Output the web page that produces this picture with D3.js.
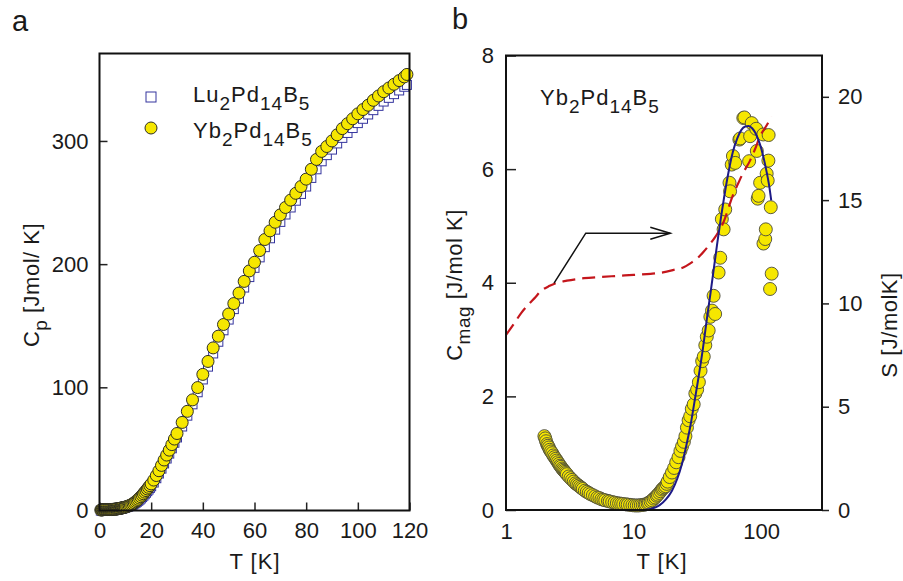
<!DOCTYPE html>
<html>
<head>
<meta charset="utf-8">
<script src="https://cdn.jsdelivr.net/npm/d3@7"></script>
<style>
  body { margin: 0; background: #fff; }
  text { font-family: "Liberation Sans", Arial, sans-serif; fill: #1a1a1a; }
</style>
</head>
<body>
<svg id="chart" width="903" height="581"></svg>
<script>
// ---- panel a : Cp vs T  ([T, Cp]) ----
var luCp = [[0.5,0.0],[0.75,0.0],[1,0.1],[1.25,0.1],[1.5,0.1],[1.75,0.1],[2,0.1],[2.25,0.1],[2.5,0.2],[2.75,0.2],[3,0.2],[3.25,0.2],[3.5,0.3],[3.75,0.3],[4,0.3],[4.25,0.4],[4.5,0.4],[4.75,0.4],
  [5,0.5],[5.25,0.5],[5.5,0.6],[5.75,0.6],[6,0.7],[6.25,0.8],[6.5,0.9],[6.75,0.9],[7,1.0],[7.25,1.1],[7.5,1.2],[7.75,1.3],[8,1.4],[8.25,1.5],[8.5,1.6],[8.75,1.8],[9,1.9],[9.25,2.0],[9.5,2.2],[9.75,2.3],[10,2.5],
  [10.5,2.8],[11,3.1],[11.5,3.5],[12,3.9],[12.5,4.4],[13,4.9],[13.5,5.6],[14,6.3],[14.5,7.1],[15,7.9],[15.5,8.8],[16,9.8],[16.5,10.9],[17,12.0],[17.5,13.2],[18,14.4],[18.5,15.7],[19,17.0],[19.5,18.3],[20,19.7],
  [21,22.7],[22,26.2],[23,30.0],[24,34.0],[25,38.2],[26,42.2],[27,46.2],[28,50.5],[29,55.0],[30,59.3],
  [32,68.2],[34,77.0],[36,86.2],[38,96.0],[40,106.4],[42,116.8],[44,127.5],[46,137.0],[48,146.3],[50,155.0],[52,163.5],[54,172.0],[56,181.0],[58,189.5],[60,197.0],[62,205.5],[64,213.8],[66,221.0],[68,228.0],[70,234.3],
  [72,240.3],[74,246.0],[76,251.5],[78,257.0],[80,263.0],[82,270.0],[84,277.0],[86,283.5],[88,288.5],[90,293.0],[92,298.0],[94,302.5],[96,306.5],[98,310.5],[100,314.5],[102,318.0],[104,321.5],[106,325.0],[108,328.5],[110,332.0],
  [112,335.0],[114,338.0],[116,341.0],[118,344.0],[119,345.5]];

var ybCp = [[0.5,0.4],[0.75,0.5],[1,0.5],[1.25,0.6],[1.5,0.7],[1.75,0.7],[2,0.8],[2.25,0.8],[2.5,0.8],[2.75,0.8],[3,0.8],[3.25,0.8],[3.5,0.8],[3.75,0.8],[4,0.8],[4.25,0.8],[4.5,0.8],[4.75,0.8],
  [5,0.9],[5.25,0.9],[5.5,1.0],[5.75,1.0],[6,1.1],[6.25,1.1],[6.5,1.2],[6.75,1.3],[7,1.4],[7.25,1.5],[7.5,1.6],[7.75,1.7],[8,1.8],[8.25,1.9],[8.5,2.0],[8.75,2.1],[9,2.2],[9.25,2.4],[9.5,2.5],[9.75,2.6],[10,2.8],
  [10.5,3.1],[11,3.5],[11.5,3.9],[12,4.4],[12.5,4.9],[13,5.5],[13.5,6.3],[14,7.2],[14.5,8.1],[15,9.0],[15.5,10.1],[16,11.2],[16.5,12.4],[17,13.6],[17.5,14.9],[18,16.2],[18.5,17.5],[19,18.8],[19.5,20.2],[20,21.6],
  [21,24.7],[22,28.4],[23,32.3],[24,36.6],[25,41.0],[26,45.0],[27,49.0],[28,53.5],[29,58.0],[30,62.5],
  [32,71.5],[34,80.5],[36,89.8],[38,99.8],[40,110.5],[42,121.0],[44,132.0],[46,141.5],[48,151.0],[50,159.5],[52,168.0],[54,176.5],[56,186.0],[58,194.5],[60,201.5],[62,211.0],[64,220.0],[66,227.0],[68,234.0],[70,240.0],
  [72,246.0],[74,252.0],[76,257.5],[78,263.0],[80,269.0],[82,277.0],[84,285.0],[86,291.5],[88,295.5],[90,300.0],[92,305.0],[94,310.0],[96,314.0],[98,318.0],[100,322.0],[102,325.5],[104,329.0],[106,333.0],[108,336.5],[110,340.0],
  [112,343.0],[114,346.0],[116,349.0],[118,352.0],[119,354.0]];

var cpTicksX = [0, 20, 40, 60, 80, 100, 120];
var cpTicksY = [0, 100, 200, 300];

// ---- panel b : Cmag (points), fit (line), entropy S (dashed) ----
var cmag = [[2.0,1.30],[2.03,1.26],[2.06,1.21],[2.1,1.16],[2.13,1.13],[2.17,1.10],[2.2,1.06],[2.25,1.03],[2.3,1.00],[2.35,0.96],[2.4,0.93],[2.45,0.90],[2.5,0.87],[2.55,0.84],[2.6,0.81],[2.65,0.78],[2.7,0.76],
  [2.75,0.73],[2.8,0.71],[2.85,0.69],[2.9,0.67],[2.95,0.65],[3.0,0.63],[3.1,0.59],[3.2,0.56],[3.3,0.53],[3.4,0.50],[3.5,0.47],[3.6,0.45],[3.7,0.43],[3.8,0.41],[3.9,0.39],[4.0,0.37],[4.15,0.34],[4.3,0.32],
  [4.45,0.30],[4.6,0.28],[4.8,0.26],[5.0,0.24],[5.2,0.22],[5.4,0.21],[5.6,0.19],[5.8,0.18],[6.0,0.17],[6.3,0.16],[6.5,0.15],[6.8,0.14],[7.1,0.13],[7.4,0.12],[7.7,0.115],[8.0,0.11],[8.3,0.105],[8.7,0.10],
  [9.0,0.095],[9.4,0.09],[9.8,0.085],[10.2,0.08],[10.6,0.08],[11.0,0.08],[11.4,0.085],[11.8,0.09],[12.2,0.095],[12.5,0.10],[12.9,0.115],[13.2,0.13],[13.6,0.15],[14.0,0.17],[14.4,0.20],[14.8,0.22],[15.2,0.25],
  [15.5,0.27],[15.9,0.30],[16.3,0.33],[16.7,0.36],[17.0,0.38],[17.4,0.40],[17.8,0.42],[18.2,0.46],[18.5,0.50],[19.2,0.58],[20.0,0.66],[20.8,0.74],[21.6,0.84],[22.5,0.93],[23.3,1.04],[24.0,1.12],[24.8,1.20],
  [25.5,1.30],[26.2,1.45],[27.0,1.58],[27.8,1.65],[28.6,1.78],[29.6,1.86],[30.5,2.05],[31.5,2.12],[32.5,2.25],[33.5,2.45],[34.5,2.62],[35.5,2.70],[36.5,2.90],[37.5,3.05],[38.8,3.16],[40.0,3.40],[41.2,3.51],
  [42.4,3.77],[43.6,3.45],[46.4,4.18],[47.8,4.44],[49.2,5.12],[50.8,4.94],[52.3,5.29],[56.5,5.76],[57.1,5.61],[58.8,6.08],[60.1,6.23],[62.6,6.11],[67.5,6.52],[68.5,6.54],[72.5,6.90],[73.9,6.91],[80.5,6.14],
  [82.0,6.58],[84.3,6.81],[91.5,6.71],[92.5,6.32],[94.0,5.48],[95.4,5.53],[98.2,5.76],[104.0,6.61],[104.3,4.69],[107.7,4.77],[108.8,4.94],[110.5,5.92],[112.6,5.80],[114.0,6.15],[114.5,6.60],[117.5,3.89],
  [119.0,5.33],[121.0,4.16]];

var cmagFit = [[2,0],[5,0],[10,0],[12,0],[13,0.01],[14,0.025],[15,0.05],[16,0.085],[18,0.19],[20,0.34],[22,0.55],[24,0.82],[26,1.15],[28,1.5],[30,1.9],[32,2.28],[35,2.85],[38,3.45],[40,3.8],
  [45,4.65],[50,5.35],[55,5.9],[60,6.3],[65,6.54],[70,6.69],[75,6.75],[80,6.76],[85,6.72],[90,6.64],[95,6.52],[100,6.37],[105,6.18],[110,5.97],[115,5.74],[120,5.45]];

var entropy = [[1,8.47],[1.15,9.0],[1.31,9.52],[1.5,9.95],[1.7,10.3],[1.88,10.6],[2.2,10.85],[2.46,10.98],[3,11.1],[4.09,11.22],[5.5,11.28],[7.45,11.33],[10,11.38],[13.6,11.43],[17,11.5],[20.6,11.62],
  [24.7,11.75],[28,11.95],[30.5,12.1],[35.4,12.5],[40,12.9],[44,13.25],[47.8,13.6],[52,14.1],[56,14.7],[60.6,15.3],[66,15.8],[72,16.3],[81.7,16.9],[90,17.5],[98.2,18.1],[110,18.6],[121,19.05]];

// arrow pointing to the S axis, in [T, S] units
var arrowPts = [[2.38, 10.98], [4.22, 13.4], [19.4, 13.4]];

var cmagTicksX = [1, 10, 100];
var cmagTicksY = [0, 2, 4, 6, 8];
var sTicks = [0, 5, 10, 15, 20];

var svg = d3.select("#chart");

function styleAxis(g) {
  g.select(".domain").remove();
  g.selectAll("text").attr("font-size", 22).attr("font-family", "Liberation Sans, Arial, sans-serif").attr("fill", "#1a1a1a");
  g.selectAll("line").attr("stroke", "#222").attr("stroke-width", 1.5);
}

// writes text like Lu_2Pd_14B_5 as tspans, subscripts shifted down
function subText(sel, parts, size, subSize) {
  parts.forEach(function (p) {
    if (p[1]) {
      sel.append("tspan").attr("dy", 8).attr("font-size", subSize).text(p[0]);
    } else {
      var t = sel.append("tspan").attr("font-size", size).text(p[0]);
      if (sel.selectAll("tspan").size() > 1) t.attr("dy", -8);
    }
  });
}

var yellow = "#f6e700";

// ================= panel a =================
var xa = d3.scaleLinear().domain([0, 120]).range([99.5, 409.5]);
var ya = d3.scaleLinear().domain([0, 371]).range([510.5, 53.5]);

svg.append("g").attr("transform", "translate(0,510.5)")
  .call(d3.axisBottom(xa).tickValues(cpTicksX).tickSize(-8).tickPadding(12))
  .call(styleAxis);
svg.append("g").attr("transform", "translate(99.5,0)")
  .call(d3.axisLeft(ya).tickValues(cpTicksY).tickSize(-8).tickPadding(11))
  .call(styleAxis);

svg.append("g").selectAll("rect").data(luCp).enter().append("rect")
  .attr("x", function (d) { return xa(d[0]) - 4.5; })
  .attr("y", function (d) { return ya(d[1]) - 4.5; })
  .attr("width", 9).attr("height", 9)
  .attr("fill", "#fff").attr("stroke", "#34349e").attr("stroke-width", 1);

svg.append("g").selectAll("circle").data(ybCp).enter().append("circle")
  .attr("cx", function (d) { return xa(d[0]); })
  .attr("cy", function (d) { return ya(d[1]); })
  .attr("r", 6)
  .attr("fill", yellow).attr("stroke", "#2e2e24").attr("stroke-width", 1);

svg.append("rect").attr("x", 99.5).attr("y", 53.5).attr("width", 310).attr("height", 457)
  .attr("fill", "none").attr("stroke", "#111").attr("stroke-width", 2);

// legend
svg.append("rect").attr("x", 146).attr("y", 92).attr("width", 10).attr("height", 10)
  .attr("fill", "#fff").attr("stroke", "#34349e").attr("stroke-width", 1);
svg.append("circle").attr("cx", 151).attr("cy", 128).attr("r", 6)
  .attr("fill", yellow).attr("stroke", "#2e2e24").attr("stroke-width", 1);
subText(svg.append("text").attr("x", 193).attr("y", 102).attr("letter-spacing", 1),
  [["Lu",0],["2",1],["Pd",0],["14",1],["B",0],["5",1]], 22, 19);
subText(svg.append("text").attr("x", 193).attr("y", 138).attr("letter-spacing", 1),
  [["Yb",0],["2",1],["Pd",0],["14",1],["B",0],["5",1]], 22, 19);

svg.append("text").attr("x", 12).attr("y", 31).attr("font-size", 29).text("a");
svg.append("text").attr("x", 255).attr("y", 569).attr("text-anchor", "middle").attr("font-size", 22)
  .attr("letter-spacing", 1).text("T [K]");
subText(svg.append("text").attr("transform", "translate(39,285) rotate(-90)").attr("text-anchor", "middle").attr("letter-spacing", 0.5),
  [["C",0],["p",1],[" [Jmol/ K]",0]], 22, 19);

// ================= panel b =================
var xb = d3.scaleLog().domain([1, 300]).range([506, 822]);
var yb = d3.scaleLinear().domain([0, 8]).range([510, 55.5]);
var ys = d3.scaleLinear().domain([0, 22]).range([510, 55.5]);

svg.append("g").attr("transform", "translate(0,510)")
  .call(d3.axisBottom(xb).tickValues(cmagTicksX).tickFormat(d3.format("d")).tickSize(0).tickPadding(13))
  .call(styleAxis);
svg.append("g").attr("transform", "translate(506,0)")
  .call(d3.axisLeft(yb).tickValues(cmagTicksY).tickSize(-10).tickPadding(12))
  .call(styleAxis);
svg.append("g").attr("transform", "translate(822,0)")
  .call(d3.axisRight(ys).tickValues(sTicks).tickSize(7).tickPadding(9))
  .call(styleAxis);

svg.append("g").selectAll("circle").data(cmag).enter().append("circle")
  .attr("cx", function (d) { return xb(d[0]); })
  .attr("cy", function (d) { return yb(d[1]); })
  .attr("r", 6.5)
  .attr("fill", yellow).attr("stroke", "#4a4a3c").attr("stroke-width", 0.9);

svg.append("path").datum(entropy)
  .attr("fill", "none").attr("stroke", "#c4161c").attr("stroke-width", 2.2)
  .attr("stroke-dasharray", "13,7")
  .attr("d", d3.line().curve(d3.curveMonotoneX)
    .x(function (d) { return xb(d[0]); })
    .y(function (d) { return ys(d[1]); }));

svg.append("path").datum(cmagFit)
  .attr("fill", "none").attr("stroke", "#1d1a86").attr("stroke-width", 2)
  .attr("d", d3.line().curve(d3.curveMonotoneX)
    .x(function (d) { return xb(d[0]); })
    .y(function (d) { return yb(d[1]); }));

// arrow
svg.append("defs").append("marker").attr("id", "head")
  .attr("markerUnits", "userSpaceOnUse").attr("markerWidth", 24).attr("markerHeight", 16)
  .attr("refX", 21).attr("refY", 7).attr("orient", "auto")
  .append("path").attr("d", "M1,1 L21,7 L1,13").attr("fill", "none").attr("stroke", "#111").attr("stroke-width", 1.5);
svg.append("path").datum(arrowPts)
  .attr("fill", "none").attr("stroke", "#111").attr("stroke-width", 1.5)
  .attr("marker-end", "url(#head)")
  .attr("d", d3.line().x(function (d) { return xb(d[0]); }).y(function (d) { return ys(d[1]); }));

svg.append("rect").attr("x", 506).attr("y", 55.5).attr("width", 316).attr("height", 454.5)
  .attr("fill", "none").attr("stroke", "#111").attr("stroke-width", 2);

subText(svg.append("text").attr("x", 540).attr("y", 105).attr("letter-spacing", 1),
  [["Yb",0],["2",1],["Pd",0],["14",1],["B",0],["5",1]], 22, 19);

svg.append("text").attr("x", 452).attr("y", 29).attr("font-size", 29).text("b");
svg.append("text").attr("x", 662).attr("y", 569).attr("text-anchor", "middle").attr("font-size", 22)
  .attr("letter-spacing", 1).text("T [K]");
subText(svg.append("text").attr("transform", "translate(462,285) rotate(-90)").attr("text-anchor", "middle").attr("letter-spacing", 0.5),
  [["C",0],["mag",1],[" [J/mol K]",0]], 22, 19);
svg.append("text").attr("transform", "translate(897,325) rotate(-90)").attr("text-anchor", "middle")
  .attr("font-size", 22).attr("letter-spacing", 0.5).text("S [J/molK]");
</script>
</body>
</html>
